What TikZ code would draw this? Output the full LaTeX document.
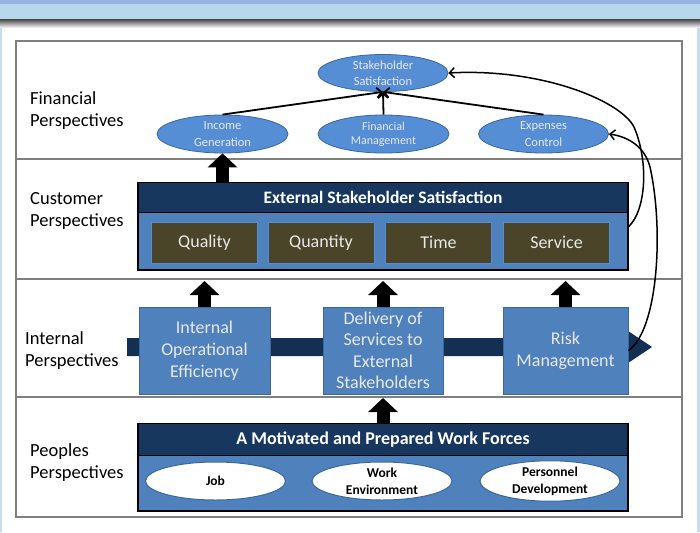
\documentclass[tikz,border=0pt]{standalone}
\usepackage{fontspec}
\setmainfont{Carlito}
\usetikzlibrary{arrows.meta,shapes.geometric}
\definecolor{navy}{HTML}{17375E}
\definecolor{bandnavy}{HTML}{132F52}
\definecolor{midblue}{HTML}{4F81BD}
\definecolor{ellblue}{HTML}{558ED5}
\definecolor{olive}{HTML}{4A4529}
\definecolor{bandblue}{HTML}{B7D7EA}
\definecolor{edgeblue}{HTML}{95B3E3}
\definecolor{stripblue}{HTML}{C6DCF2}
\definecolor{framegray}{HTML}{7F7F7F}
\definecolor{bordblue}{HTML}{3A679E}
\definecolor{paletext}{HTML}{E8E8E8}
\begin{document}
\begin{tikzpicture}[x=1pt,y=-1pt,
  rowlabel/.style={anchor=west,align=left,font=\fontsize{18.5}{22}\selectfont,inner sep=0pt},
  finell/.style={ellipse,fill=ellblue,draw=bordblue,line width=0.8pt,minimum width=130pt,minimum height=37pt,inner sep=0pt,text=paletext,align=center,font=\fontsize{12.5}{16.5}\selectfont},
  bigbox/.style={rectangle,fill=midblue,draw=black,line width=1.6pt,minimum width=490pt,minimum height=87pt,inner sep=0pt},
  hdrbox/.style={rectangle,fill=navy,draw=black,line width=1.2pt,minimum width=490pt,minimum height=30pt,inner sep=0pt,text=white,font=\bfseries\fontsize{17.5}{20}\selectfont},
  qbox/.style={rectangle,fill=olive,draw=ellblue,line width=1pt,minimum width=106pt,minimum height=41pt,inner sep=0pt,text=paletext,font=\fontsize{18}{22}\selectfont},
  ibox/.style={rectangle,fill=midblue,draw=bordblue,line width=1pt,minimum height=87pt,inner sep=0pt,text=paletext,align=center,font=\fontsize{18}{22}\selectfont},
  pell/.style={ellipse,fill=white,draw=bordblue,line width=1pt,minimum width=140pt,minimum height=38pt,inner sep=0pt,align=center,font=\bfseries\fontsize{13.5}{17}\selectfont},
  blockarrow/.style={line width=13pt,-{Triangle[width=29pt,length=14pt]}},
  thinarrow/.style={line width=1.8pt,-{Straight Barb[length=5pt,width=10pt]}},
  curvearrow/.style={line width=1.5pt,-{Straight Barb[length=5pt,width=10pt]}},
]
\useasboundingbox (0,0) rectangle (700,532);
% background
\fill[stripblue] (0,0) rectangle (700,532);
\fill[white] (2,24) rectangle (697,532);
\fill[edgeblue] (0,0) rectangle (700,4);
\fill[bandblue] (0,4) rectangle (700,20);
\shade[top color=black!65, bottom color=white] (0,20) rectangle (700,28);
% frame and rows
\draw[framegray,line width=1.4pt] (16,41) rectangle (682,517);
\draw[framegray,line width=1.4pt] (16,159) -- (682,159);
\draw[framegray,line width=1.4pt] (16,279) -- (682,279);
\draw[framegray,line width=1.4pt] (16,397) -- (682,397);
% row labels
\node[rowlabel] (lfin) at (30,111) {Financial\\Perspectives};
\node[rowlabel] (lcus) at (30,211) {Customer\\Perspectives};
\node[rowlabel] (lint) at (25,351) {Internal\\Perspectives};
\node[rowlabel] (lpeo) at (30,463) {Peoples\\Perspectives};
% financial
\node[finell] (ss) at (383,73) {Stakeholder\\Satisfaction};
\node[finell,minimum width=131pt,minimum height=38pt] (ig) at (222.5,134) {Income\\Generation};
\node[finell,minimum width=131pt,minimum height=38pt,font=\fontsize{12}{14}\selectfont] (fm) at (383.5,134) {Financial\\Management};
\node[finell,minimum width=130pt,minimum height=38pt] (ec) at (543.5,134) {Expenses\\Control};
\draw[thinarrow] (ig.north) -- (ss.south);
\draw[thinarrow] (fm.north) -- (ss.south);
\draw[thinarrow] (ec.north) -- (ss.south);
% customer
\node[bigbox] (cust) at (383,226.5) {};
\node[hdrbox,anchor=north] (custh) at (cust.north) {External Stakeholder Satisfaction};
\node[qbox] (qual) at (204.5,242.5) {Quality};
\node[qbox] (quan) at (321,242.5) {Quantity};
\node[qbox] (time) at (438.5,242.5) {Time};
\node[qbox] (serv) at (556.5,242.5) {Service};
\draw[blockarrow] (cust.north -| ig.south) -- (ig.south);
% internal
\fill[bandnavy] (127,338) -- (628,338) -- (628,331) -- (652,347) -- (628,363) -- (628,356) -- (127,356) -- cycle;
\node[ibox,minimum width=131pt] (io) at (204.5,350.5) {Internal\\Operational\\Efficiency};
\node[ibox,minimum width=120pt,font=\fontsize{18}{21.5}\selectfont] (ds) at (383,350.5) {Delivery of\\Services to\\External\\Stakeholders};
\node[ibox,minimum width=125pt] (rm) at (565.5,350.5) {Risk\\Management};
\coordinate (t1) at (204.5,281);
\coordinate (t2) at (383,281);
\coordinate (t3) at (565.5,281);
\draw[blockarrow] (io.north) -- (t1);
\draw[blockarrow] (ds.north) -- (t2);
\draw[blockarrow] (rm.north) -- (t3);
% peoples
\node[bigbox] (peo) at (383,467.5) {};
\node[hdrbox,anchor=north,minimum height=32pt,font=\bfseries\fontsize{18}{20}\selectfont] (peoh) at (peo.north) {A Motivated and Prepared Work Forces};
\node[pell] (job) at (215.5,481) {Job};
\node[pell] (we) at (382,481) {Work\\Environment};
\node[pell] (pd) at (550,481) {Personnel\\Development};
\coordinate (t4) at (383,398);
\draw[blockarrow] (peo.north) -- (t4);
% feedback curves
\draw[curvearrow] (cust.east) .. controls (646,210) and (649,162) .. (634,127) .. controls (620,100) and (540,68) .. (ss.east);
\draw[curvearrow] (rm.east) .. controls (658,330) and (664,230) .. (650,167) .. controls (645,148) and (630,137) .. (ec.east);
\end{tikzpicture}
\end{document}
